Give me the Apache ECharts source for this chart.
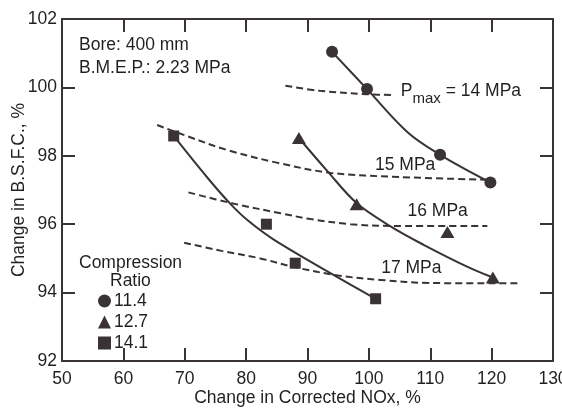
<!DOCTYPE html>
<html>
<head>
<meta charset="utf-8">
<script src="https://cdn.jsdelivr.net/npm/echarts@6/dist/echarts.min.js"></script>
<style>
html,body{margin:0;padding:0;background:#fff;}
#chart{width:562px;height:412px;}
</style>
</head>
<body>
<div id="chart"></div>
<script>
// Measured markers: [Change in Corrected NOx %, Change in BSFC %]
const cr114Points = [[94.0,101.04],[99.7,99.95],[111.6,98.03],[119.8,97.22]];
const cr127Points = [[88.6,98.52],[98.0,96.58],[112.8,95.77],[120.2,94.44]];
const cr141Points = [[68.2,98.58],[83.3,96.0],[88.0,94.86],[101.1,93.82]];

// Solid trend curves
const cr114Curve = [[94.0,101.04],[99.7,99.95],[106.3,98.69],[111.6,98.03],[119.8,97.22]];
const cr127Curve = [[88.6,98.52],[93.2,97.56],[98.0,96.62],[103.6,95.93],[109.0,95.39],[116.0,94.76],[120.2,94.44]];
const cr141Curve = [[68.2,98.58],[73.6,97.38],[77.4,96.6],[80.2,96.12],[84.5,95.55],[94.8,94.46],[101.1,93.82]];

// Dashed constant Pmax lines
const p14Line = [[86.4,100.05],[92.0,99.9],[99.7,99.8],[104.1,99.78]];
const p15Line = [[65.5,98.9],[70.0,98.6],[76.9,98.17],[85.0,97.8],[93.8,97.5],[105.0,97.38],[119.5,97.3]];
const p16Line = [[70.6,96.93],[78.0,96.6],[85.6,96.32],[90.5,96.15],[97.0,96.0],[103.6,95.95],[119.3,95.95]];
const p17Line = [[69.9,95.46],[76.0,95.22],[82.3,95.0],[88.0,94.74],[95.0,94.5],[101.9,94.37],[110.0,94.28],[124.2,94.27]];

// Line annotations
const lineLabels = [
  {value:[105.2,99.84], text:'{n|P}{s|max}{n| = 14 MPa}'},
  {value:[101.0,97.66], text:'{n|15 MPa}'},
  {value:[106.3,96.33], text:'{n|16 MPa}'},
  {value:[102.0,94.66], text:'{n|17 MPa}'}
];

const xTicks = {min:50, max:130, interval:10};
const yTicks = {min:92, max:102, interval:2};
const legendNames = ['11.4','12.7','14.1'];

const ink = '#3a3335';
const txt = '#231f20';
const font = '"Liberation Sans", Arial, Helvetica, sans-serif';
const fs = 17.5;

const chart = echarts.init(document.getElementById('chart'), null, {renderer:'canvas'});

const solid = (data) => ({type:'line', data, smooth:0.35, symbol:'none', silent:true,
  lineStyle:{color:ink, width:2}, z:2});
const dashed = (data) => ({type:'line', data, smooth:0.35, symbol:'none', silent:true,
  lineStyle:{color:ink, width:2, type:[7,4]}, z:2});

const axisCommon = {
  axisLine:{show:true, lineStyle:{color:ink, width:2}},
  axisTick:{show:true, inside:true, length:13, lineStyle:{color:ink, width:2}},
  splitLine:{show:false}
};

chart.setOption({
  backgroundColor:'#ffffff',
  animation:false,
  textStyle:{fontFamily:font},
  grid:{left:62, right:9, top:19, bottom:51, containLabel:false, outerBoundsMode:'none'},
  xAxis:[
    Object.assign({type:'value', position:'bottom', min:xTicks.min, max:xTicks.max, interval:xTicks.interval,
      name:'Change in Corrected NOx, %', nameLocation:'middle', nameGap:28, nameMoveOverlap:false,
      nameTextStyle:{fontSize:fs, color:txt, fontFamily:font},
      axisLabel:{fontSize:fs, color:txt, margin:9, fontFamily:font}}, axisCommon),
    Object.assign({type:'value', position:'top', min:xTicks.min, max:xTicks.max, interval:xTicks.interval,
      axisLabel:{show:false}}, axisCommon)
  ],
  yAxis:[
    Object.assign({type:'value', position:'left', min:yTicks.min, max:yTicks.max, interval:yTicks.interval,
      name:'Change in B.S.F.C., %', nameLocation:'middle', nameGap:34, nameMoveOverlap:false,
      nameTextStyle:{fontSize:fs, color:txt, fontFamily:font},
      axisLabel:{fontSize:fs, color:txt, margin:5, fontFamily:font}}, axisCommon),
    Object.assign({type:'value', position:'right', min:yTicks.min, max:yTicks.max, interval:yTicks.interval,
      axisLabel:{show:false}}, axisCommon)
  ],
  legend:{
    data:legendNames, orient:'vertical', left:93, top:287, itemGap:3,
    itemWidth:13, itemHeight:13, selectedMode:false,
    textStyle:{fontSize:fs, color:txt, fontFamily:font, padding:[0,0,0,-2]}
  },
  graphic:[
    {type:'text', left:79, top:36, style:{text:'Bore: 400 mm', fontSize:fs, fill:txt, fontFamily:font}},
    {type:'text', left:79, top:59, style:{text:'B.M.E.P.: 2.23 MPa', fontSize:fs, fill:txt, fontFamily:font}},
    {type:'text', left:79, top:254, style:{text:'Compression', fontSize:fs, fill:txt, fontFamily:font}},
    {type:'text', left:110, top:272, style:{text:'Ratio', fontSize:fs, fill:txt, fontFamily:font}}
  ],
  series:[
    solid(cr114Curve), solid(cr127Curve), solid(cr141Curve),
    dashed(p14Line), dashed(p15Line), dashed(p16Line), dashed(p17Line),
    {name:'11.4', type:'scatter', data:cr114Points, symbol:'circle', symbolSize:12,
      itemStyle:{color:ink, opacity:1}, z:5},
    {name:'12.7', type:'scatter', data:cr127Points, symbol:'triangle', symbolSize:[14,12],
      itemStyle:{color:ink, opacity:1}, z:5},
    {name:'14.1', type:'scatter', data:cr141Points, symbol:'rect', symbolSize:11,
      itemStyle:{color:ink, opacity:1}, z:5},
    {type:'scatter', silent:true, symbolSize:0, z:6, itemStyle:{color:txt, opacity:1},
      data:lineLabels.map(d => ({value:d.value, label:{show:true, position:'inside', align:'left',
        verticalAlign:'middle', formatter:d.text, color:txt, opacity:1,
        textBorderWidth:0,
        rich:{
          n:{fontSize:fs, color:txt, fontFamily:font, lineHeight:22, verticalAlign:'top'},
          s:{fontSize:15, color:txt, fontFamily:font, lineHeight:22, verticalAlign:'top', padding:[9,0,0,0]}
        }}}))
    }
  ]
});
</script>
</body>
</html>
